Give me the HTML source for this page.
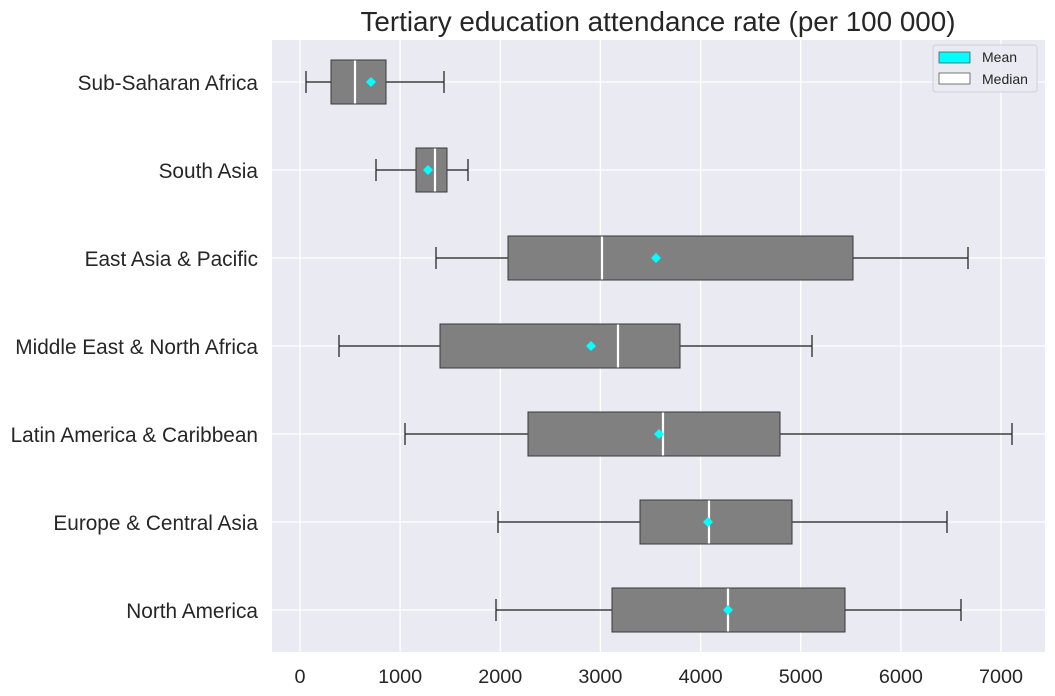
<!DOCTYPE html>
<html><head><meta charset="utf-8"><style>body{margin:0;background:#fff}svg{display:block}text{font-family:"Liberation Sans",sans-serif}</style></head>
<body>
<svg width="1055" height="696" xmlns="http://www.w3.org/2000/svg">
<rect x="272" y="40" width="773" height="612" fill="#eaeaf2"/>
<g stroke="#fff" stroke-width="1.3">
<line x1="300" y1="40" x2="300" y2="652"/><line x1="400.1" y1="40" x2="400.1" y2="652"/><line x1="500.3" y1="40" x2="500.3" y2="652"/><line x1="600.4" y1="40" x2="600.4" y2="652"/><line x1="700.6" y1="40" x2="700.6" y2="652"/><line x1="800.7" y1="40" x2="800.7" y2="652"/><line x1="900.9" y1="40" x2="900.9" y2="652"/><line x1="1001" y1="40" x2="1001" y2="652"/>
<line x1="272" y1="82" x2="1045" y2="82"/><line x1="272" y1="170" x2="1045" y2="170"/><line x1="272" y1="258" x2="1045" y2="258"/><line x1="272" y1="346" x2="1045" y2="346"/><line x1="272" y1="434" x2="1045" y2="434"/><line x1="272" y1="522" x2="1045" y2="522"/><line x1="272" y1="610" x2="1045" y2="610"/>
</g>
<g stroke="#1a1a1a" stroke-width="1.2">
<path d="M306 82H331M386 82H444M306 71V93M444 71V93"/>
<path d="M376 170H416M447 170H468M376 159V181M468 159V181"/>
<path d="M436 258H508M853 258H968M436 247V269M968 247V269"/>
<path d="M339 346H440M680 346H812M339 335V357M812 335V357"/>
<path d="M405 434H528M780 434H1012M405 423V445M1012 423V445"/>
<path d="M498 522H640M792 522H947M498 511V533M947 511V533"/>
<path d="M496 610H612M845 610H961M496 599V621M961 599V621"/>
</g>
<g fill="#808080" stroke="#3a3a3a" stroke-width="1">
<rect x="331" y="60" width="55" height="44"/>
<rect x="416" y="148" width="31" height="44"/>
<rect x="508" y="236" width="345" height="44"/>
<rect x="440" y="324" width="240" height="44"/>
<rect x="528" y="412" width="252" height="44"/>
<rect x="640" y="500" width="152" height="44"/>
<rect x="612" y="588" width="233" height="44"/>
</g>
<g stroke="#fff" stroke-width="2.2">
<path d="M355 60.5V103.5M435 148.5V191.5M602 236.5V279.5M618 324.5V367.5M663 412.5V455.5M709 500.5V543.5M728 588.5V631.5"/>
</g>
<g fill="#00ffff">
<path d="M371 77L376 82L371 87L366 82Z"/>
<path d="M428 165L433 170L428 175L423 170Z"/>
<path d="M656 253L661 258L656 263L651 258Z"/>
<path d="M591 341L596 346L591 351L586 346Z"/>
<path d="M659 429L664 434L659 439L654 434Z"/>
<path d="M708 517L713 522L708 527L703 522Z"/>
<path d="M728 605L733 610L728 615L723 610Z"/>
</g>
<g font-size="19.8" fill="#262626" text-anchor="middle">
<text x="300" y="683">0</text><text x="400.1" y="683">1000</text><text x="500.3" y="683">2000</text><text x="600.4" y="683">3000</text><text x="700.6" y="683">4000</text><text x="800.7" y="683">5000</text><text x="900.9" y="683">6000</text><text x="1001" y="683">7000</text>
</g>
<g font-size="20.8" fill="#262626" text-anchor="end">
<text x="258" y="90">Sub-Saharan Africa</text><text x="258" y="178">South Asia</text><text x="258" y="266">East Asia &amp; Pacific</text><text x="258" y="354">Middle East &amp; North Africa</text><text x="258" y="442">Latin America &amp; Caribbean</text><text x="258" y="530">Europe &amp; Central Asia</text><text x="258" y="618">North America</text>
</g>
<text x="658" y="31" font-size="27.8" fill="#262626" text-anchor="middle">Tertiary education attendance rate (per 100 000)</text>
<rect x="933" y="45" width="104" height="47" rx="3" fill="#eaeaf2" stroke="#d0d0d8" fill-opacity="0.85"/>
<rect x="939" y="52" width="31" height="11" fill="#00ffff" stroke="#555" stroke-width="0.8"/>
<rect x="939" y="73" width="31" height="11" fill="#fff" stroke="#555" stroke-width="0.8"/>
<text x="982" y="62" font-size="14" fill="#262626">Mean</text>
<text x="982" y="84" font-size="14" fill="#262626">Median</text>
</svg>
</body></html>
